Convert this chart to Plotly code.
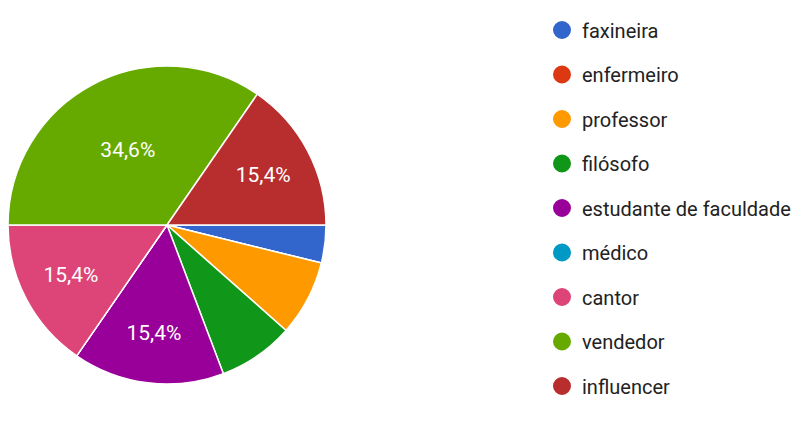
import plotly.graph_objects as go

categories = ["faxineira", "enfermeiro", "professor", "filósofo", "estudante de faculdade",
              "médico", "cantor", "vendedor", "influencer"]
counts = [1, 0, 2, 2, 4, 0, 4, 9, 4]
colors = ["#3366cc", "#dc3912", "#ff9900", "#109618", "#990099",
          "#0099c6", "#dd4477", "#66aa00", "#b82e2e"]

total = sum(counts)
templates = ["%{percent:.1%}" if c / total >= 0.1 else "" for c in counts]

W, H = 802, 430
cx, cy, r = 159, 217, 159  # figure coords (from top-left)

fig = go.Figure()
fig.add_trace(go.Pie(
    labels=categories, values=counts, sort=False, direction="clockwise", rotation=90,
    marker=dict(colors=colors, line=dict(color="white", width=1.5)),
    texttemplate=templates, textposition="inside", insidetextorientation="horizontal",
    textfont=dict(color="white", size=21, family="Roboto"),
    showlegend=False, hoverinfo="label+percent",
    domain=dict(x=[(cx - r) / W, (cx + r) / W], y=[(H - cy - r) / H, (H - cy + r) / H]),
))

for name, col in zip(categories, colors):
    fig.add_trace(go.Scatter(
        x=[None], y=[None], mode="markers", name=name, legendgroup=name,
        marker=dict(color=col, size=20, symbol="circle", line=dict(color=col, width=2)),
    ))

fig.update_layout(
    width=W, height=H,
    margin=dict(l=0, r=0, t=0, b=0, autoexpand=False),
    paper_bgcolor="white", plot_bgcolor="white",
    separators=",.",
    xaxis=dict(visible=False), yaxis=dict(visible=False),
    legend=dict(x=534 / W, y=1 - 2.5 / H, xanchor="left", yanchor="top",
                font=dict(family="Roboto", size=20, color="#222222"),
                tracegroupgap=15.5, itemsizing="trace", bgcolor="rgba(0,0,0,0)"),
)

fig.write_html("out.html")
